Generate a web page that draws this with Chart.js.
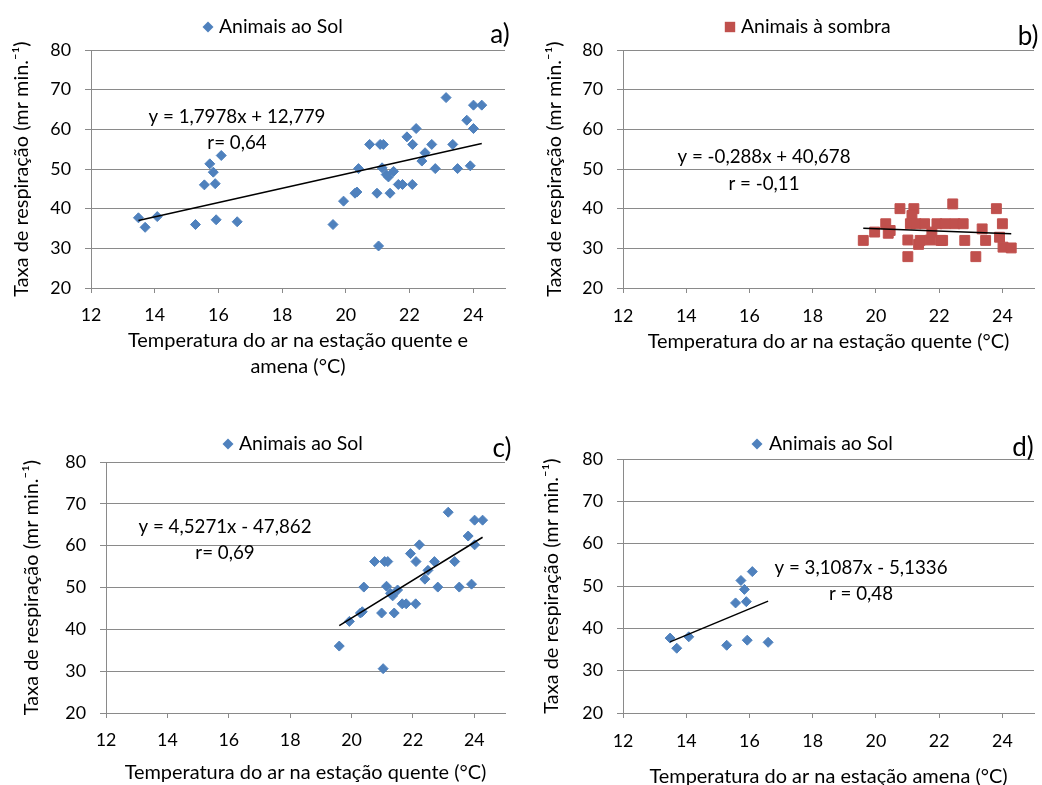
<!DOCTYPE html>
<html><head><meta charset="utf-8">
<script src="https://cdn.jsdelivr.net/npm/chart.js@4.4.1/dist/chart.umd.min.js"></script>
<style>
html,body{margin:0;padding:0;background:#fff;}
#wrap{position:relative;width:1042px;height:785px;overflow:hidden;background:#fff;}
canvas{position:absolute;left:0;top:0;}
</style></head><body>
<div id="wrap">
<canvas id="ca" width="1042" height="785"></canvas>
<canvas id="cb" width="1042" height="785"></canvas>
<canvas id="cc" width="1042" height="785"></canvas>
<canvas id="cd" width="1042" height="785"></canvas>
</div>
<script>
// ---------------- DATA ----------------
// Animais ao Sol, estação amena
const sunMildTemp = [13.49, 13.70, 14.08, 15.28, 15.56, 15.73, 15.84, 15.90, 15.93, 16.09, 16.59];
const sunMildResp = [37.7, 35.3, 38.0, 36.0, 46.0, 51.3, 49.2, 46.3, 37.2, 53.4, 36.7];
// Animais ao Sol, estação quente
const sunHotTemp = [19.60, 19.93, 20.29, 20.35, 20.40, 20.75, 20.98, 21.03, 21.08, 21.18, 21.14, 21.27, 21.34, 21.39, 21.50, 21.65, 21.78, 21.92, 22.10, 22.21, 22.09, 22.39, 22.49, 22.70, 22.81, 23.15, 23.36, 23.51, 23.80, 23.91, 24.01, 24.01, 24.27];
const sunHotResp = [36.0, 41.9, 43.9, 44.2, 50.1, 56.2, 43.9, 30.6, 56.2, 56.2, 50.3, 48.6, 48.0, 43.9, 49.4, 46.1, 46.1, 58.1, 56.2, 60.2, 46.1, 52.0, 54.1, 56.2, 50.1, 68.0, 56.2, 50.1, 62.3, 50.8, 60.2, 66.1, 66.1];
// Animais à sombra, estação quente
const shadeHotTemp = [19.60, 19.96, 20.31, 20.39, 20.45, 20.76, 21.01, 21.01, 21.09, 21.20, 21.14, 21.27, 21.35, 21.40, 21.54, 21.72, 21.77, 21.93, 22.11, 22.19, 22.05, 22.43, 22.50, 22.76, 22.81, 23.16, 23.36, 23.47, 23.81, 23.91, 24.00, 24.02, 24.28];
const shadeHotResp = [32.0, 34.1, 36.2, 33.8, 34.5, 40.0, 32.1, 27.9, 36.2, 40.0, 38.3, 36.2, 31.0, 32.0, 36.2, 32.1, 34.1, 36.2, 32.0, 36.2, 32.0, 41.2, 36.2, 36.2, 32.0, 27.9, 34.9, 32.0, 40.0, 32.8, 36.2, 30.3, 30.1];

const xTickValues = [12, 14, 16, 18, 20, 22, 24];
const yTickValues = [20, 30, 40, 50, 60, 70, 80];

// Equações das linhas de tendência (como mostradas no gráfico)
const trendA = {slope: 1.7978, intercept: 12.779};
const trendB = {slope: -0.288, intercept: 40.678};
const trendC = {slope: 4.5271, intercept: -47.862};
const trendD = {slope: 3.1087, intercept: -5.1336};

const eqTextA = ['y = 1,7978x + 12,779', 'r= 0,64'];
const eqTextB = ['y = -0,288x + 40,678', 'r = -0,11'];
const eqTextC = ['y = 4,5271x - 47,862', 'r= 0,69'];
const eqTextD = ['y = 3,1087x - 5,1336', 'r = 0,48'];

const legendSun = 'Animais ao Sol';
const legendShade = 'Animais à sombra';
const yTitle = 'Taxa de respiração (mr min.⁻¹)';
const xTitleA = ['Temperatura do ar na estação quente e', 'amena (°C)'];
const xTitleHot = 'Temperatura do ar na estação quente (°C)';
const xTitleMild = 'Temperatura do ar na estação amena (°C)';

// ---------------- STYLE ----------------
const FAM = 'Lato, "Open Sans", "DejaVu Sans", sans-serif';
const BLUE = '#4F81BD', RED = '#C0504D', GRID = '#8a8a8a';
const mc = document.createElement('canvas').getContext('2d');
function wAt(t, s){ mc.font = s + 'px ' + FAM; return mc.measureText(t).width; }
function fit(t, target, lo, hi){ const s = 20 * target / wAt(t, 20); return Math.max(lo, Math.min(hi, s)); }
const S_TITLE = fit(xTitleHot, 362, 14, 21);
const S_TICK = fit('80', 20.7, 14, 21);
const S_LEG = fit(legendSun, 124, 14, 21);
const S_EQ = fit(eqTextA[0], 177, 14, 21);
const S_LET = fit('a)', 20, 18, 26);
Chart.defaults.font.family = FAM;
Chart.defaults.color = '#000';

function pts(xs, ys){ return xs.map((x, i) => ({x: x, y: ys[i]})); }
function trend(tr, xs){
  const lo = Math.min(...xs), hi = Math.max(...xs);
  return [{x: lo, y: tr.slope * lo + tr.intercept}, {x: hi, y: tr.slope * hi + tr.intercept}];
}

const TITLE_LH = 26, TICK_LEN_X = 5, TICK_LEN_Y = 6;

function makeChart(id, p){
  const tickLH = S_TICK * 1.2;
  const yLeft = p.yTitleX - TITLE_LH / 2;
  const W = p.L - yLeft;
  const xTitleLines = Array.isArray(p.xTitle) ? p.xTitle.length : 1;
  const xBottom = p.xTitleY + TITLE_LH / 2 + TITLE_LH * (xTitleLines - 1);
  const H = xBottom - p.B;
  const xTickPad = p.xTickY - p.B - TICK_LEN_X - tickLH / 2;

  const annot = {
    id: 'annot' + id,
    afterDraw(chart){
      const ctx = chart.ctx;
      ctx.save();
      ctx.fillStyle = '#000';
      ctx.textBaseline = 'middle';
      // legend
      const lg = p.legend;
      ctx.fillStyle = lg.color;
      ctx.beginPath();
      if (lg.shape === 'diamond') {
        const r = 5.5;
        ctx.moveTo(lg.mx - r, lg.my); ctx.lineTo(lg.mx, lg.my - r);
        ctx.lineTo(lg.mx + r, lg.my); ctx.lineTo(lg.mx, lg.my + r);
      } else {
        const h = 5.2;
        ctx.rect(lg.mx - h, lg.my - h, 2 * h, 2 * h);
      }
      ctx.closePath(); ctx.fill();
      ctx.fillStyle = '#000';
      ctx.font = S_LEG + 'px ' + FAM;
      ctx.textAlign = 'left';
      ctx.fillText(lg.text, lg.tx, lg.my);
      // letter
      ctx.font = S_LET + 'px ' + FAM;
      ctx.textAlign = 'center';
      ctx.fillText(p.letter.text, p.letter.x, p.letter.y);
      // equation
      ctx.font = S_EQ + 'px ' + FAM;
      ctx.fillText(p.eq.text[0], p.eq.x, p.eq.y1);
      ctx.fillText(p.eq.text[1], p.eq.x, p.eq.y2);
      ctx.restore();
    }
  };

  return new Chart(document.getElementById(id), {
    type: 'scatter',
    data: {
      datasets: [
        {type: 'line', label: 'trend', data: p.trend, borderColor: '#000', borderWidth: 1.5,
         pointRadius: 0, fill: false, tension: 0},
        {label: p.legend.text, data: p.data, pointStyle: p.pointStyle, pointRadius: p.radius,
         backgroundColor: p.legend.color, borderColor: p.legend.color, borderWidth: 1}
      ]
    },
    options: {
      responsive: false, animation: false, devicePixelRatio: 1,
      layout: {padding: {left: yLeft, top: p.T, right: 1042 - p.R, bottom: 785 - xBottom}},
      plugins: {legend: {display: false}, tooltip: {enabled: false}, title: {display: false}},
      scales: {
        x: {
          type: 'linear', position: 'bottom', min: 12, max: 25,
          afterBuildTicks: s => { s.ticks = xTickValues.map(v => ({value: v})); },
          ticks: {stepSize: 2, includeBounds: false, padding: xTickPad, color: '#000', autoSkip: false, maxRotation: 0,
                  font: {size: S_TICK, lineHeight: 1.2}},
          grid: {drawOnChartArea: false, drawTicks: true, tickLength: TICK_LEN_X, color: GRID, tickColor: GRID, lineWidth: 1},
          border: {display: true, color: GRID, width: 1},
          title: {display: true, text: p.xTitle, color: '#000', padding: 0,
                  font: {size: S_TITLE, lineHeight: TITLE_LH + 'px'}},
          afterFit: s => { s.height = H; }
        },
        y: {
          type: 'linear', position: 'left', min: 20, max: 80,
          afterBuildTicks: s => { s.ticks = yTickValues.map(v => ({value: v})); },
          ticks: {stepSize: 10, padding: 14, color: '#000', font: {size: S_TICK, lineHeight: 1.2}},
          grid: {drawTicks: true, tickLength: TICK_LEN_Y, color: GRID, tickColor: GRID, lineWidth: 1},
          border: {display: true, color: GRID, width: 1},
          title: {display: true, text: yTitle, color: '#000', padding: 0,
                  font: {size: S_TITLE, lineHeight: TITLE_LH + 'px'}},
          afterFit: s => { s.width = W; }
        }
      }
    },
    plugins: [annot]
  });
}

makeChart('ca', {
  L: 91, R: 505, T: 50, B: 288, yTitleX: 22, xTickY: 315, xTitleY: 341, xTitle: xTitleA,
  data: pts(sunMildTemp.concat(sunHotTemp), sunMildResp.concat(sunHotResp)),
  trend: trend(trendA, sunMildTemp.concat(sunHotTemp)),
  pointStyle: 'rectRot', radius: 5,
  legend: {shape: 'diamond', color: BLUE, mx: 208, my: 27, tx: 219, text: legendSun},
  letter: {text: 'a)', x: 500, y: 35},
  eq: {text: eqTextA, x: 237, y1: 117, y2: 143}
});
makeChart('cb', {
  L: 623, R: 1038, T: 50, B: 288, yTitleX: 555, xTickY: 316.5, xTitleY: 341.5, xTitle: xTitleHot,
  data: pts(shadeHotTemp, shadeHotResp),
  trend: trend(trendB, shadeHotTemp),
  pointStyle: 'rect', radius: 7,
  legend: {shape: 'square', color: RED, mx: 730, my: 27, tx: 741, text: legendShade},
  letter: {text: 'b)', x: 1028, y: 37},
  eq: {text: eqTextB, x: 764, y1: 157, y2: 184}
});
makeChart('cc', {
  L: 106, R: 505, T: 462, B: 713, yTitleX: 32, xTickY: 740, xTitleY: 773, xTitle: xTitleHot,
  data: pts(sunHotTemp, sunHotResp),
  trend: trend(trendC, sunHotTemp),
  pointStyle: 'rectRot', radius: 5,
  legend: {shape: 'diamond', color: BLUE, mx: 228, my: 444, tx: 239, text: legendSun},
  letter: {text: 'c)', x: 502, y: 449},
  eq: {text: eqTextC, x: 225, y1: 527, y2: 553}
});
makeChart('cd', {
  L: 623, R: 1034, T: 459, B: 713, yTitleX: 552, xTickY: 741.5, xTitleY: 776.5, xTitle: xTitleMild,
  data: pts(sunMildTemp, sunMildResp),
  trend: trend(trendD, sunMildTemp),
  pointStyle: 'rectRot', radius: 5,
  legend: {shape: 'diamond', color: BLUE, mx: 757, my: 444, tx: 769, text: legendSun},
  letter: {text: 'd)', x: 1023, y: 448},
  eq: {text: eqTextD, x: 861, y1: 568, y2: 594}
});
</script>
</body></html>
